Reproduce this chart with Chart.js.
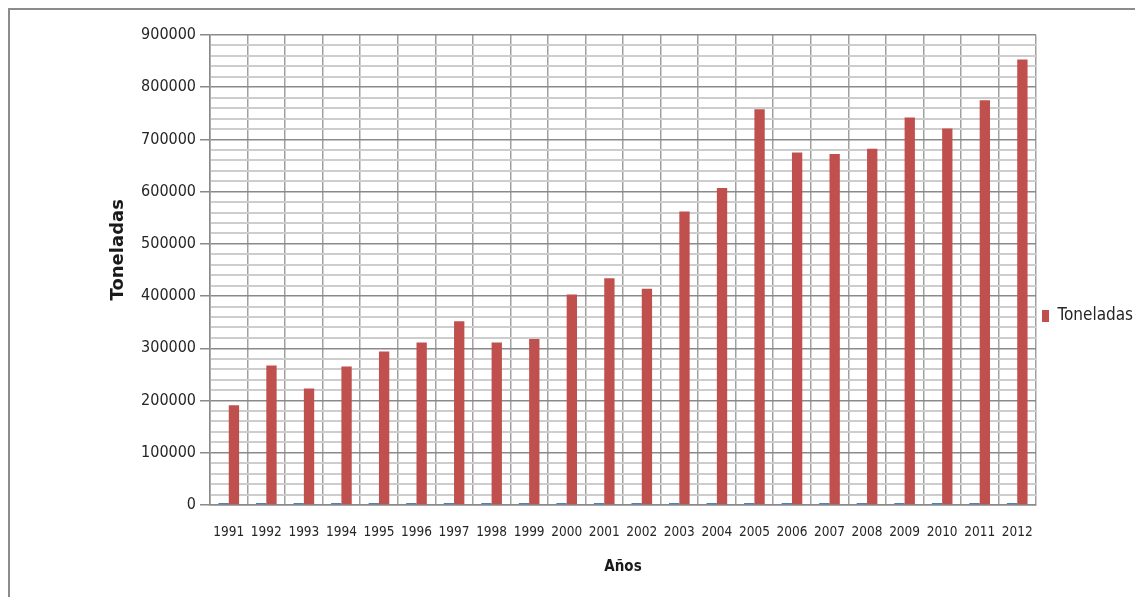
<!DOCTYPE html>
<html lang="es">
<head>
  <meta charset="UTF-8">
  <title>Toneladas por año, 1991-2012</title>
  <script src="https://cdn.jsdelivr.net/npm/chart.js"></script>
  <style>
    html, body {
      margin: 0;
      padding: 0;
      background: #fff;
      overflow: hidden;
    }
    .frame {
      position: absolute;
      left: 8px;
      top: 8px;
      width: 1200px;
      height: 700px;
      border-left: 2px solid #8c8c8c;
      border-top: 2px solid #8c8c8c;
    }
    .chart-container {
      position: absolute;
      left: 0;
      top: 0;
      width: 1135px;
      height: 597px;
    }
  </style>
</head>
<body>
  <div class="frame"></div>
  <div class="chart-container">
    <canvas id="toneladasChart"></canvas>
  </div>

  <script>
    // values
    const years = ['1991', '1992', '1993', '1994', '1995', '1996', '1997', '1998', '1999', '2000', '2001',
                   '2002', '2003', '2004', '2005', '2006', '2007', '2008', '2009', '2010', '2011', '2012'];
    const toneladas = [191000, 267000, 223000, 265000, 294000, 311000, 352000, 311000, 318000, 403000, 434000,
                       414000, 562000, 607000, 758000, 675000, 672000, 682000, 742000, 721000, 775000, 853000];
    // empty first series (shows as a thin blue line at zero)
    const serieVacia = [0, 0, 0, 0, 0, 0, 0, 0, 0, 0, 0,
                        0, 0, 0, 0, 0, 0, 0, 0, 0, 0, 0];

    const yMax = 900000;
    const yMinorStep = 20000;
    const yMajorStep = 100000;

    const fontNarrow = "'Liberation Sans Narrow', 'DejaVu Sans Condensed', sans-serif";
    const isMajor = v => v % yMajorStep === 0;

    // y title drawn by hand so it can sit a bit above the middle, like the original
    const yTitlePlugin = {
      id: 'yTitle',
      afterDraw(chart) {
        const { ctx, chartArea } = chart;
        ctx.save();
        ctx.translate(118, chartArea.top + chartArea.height * 0.457);
        ctx.rotate(-Math.PI / 2);
        ctx.font = "bold 18px 'DejaVu Sans', sans-serif";
        ctx.fillStyle = '#1a1a1a';
        ctx.textAlign = 'center';
        ctx.textBaseline = 'middle';
        ctx.fillText('Toneladas', 0, 0);
        ctx.restore();
      }
    };

    const config = {
      type: 'bar',
      data: {
        labels: years,
        datasets: [
          {
            label: 'Serie 1',
            data: serieVacia,
            backgroundColor: '#4f81bd',
            minBarLength: 2,
            categoryPercentage: 0.55,
            barPercentage: 1.0
          },
          {
            label: 'Toneladas',
            data: toneladas,
            backgroundColor: '#c0504d',
            categoryPercentage: 0.55,
            barPercentage: 1.0
          }
        ]
      },
      options: {
        responsive: true,
        maintainAspectRatio: false,
        animation: false,
        layout: {
          padding: { left: 98, top: 35, right: 0, bottom: 0 }
        },
        plugins: {
          tooltip: { enabled: false },
          legend: {
            position: 'right',
            maxWidth: 99,
            labels: {
              filter: item => item.text === 'Toneladas',
              boxWidth: 7,
              boxHeight: 12,
              padding: 6,
              color: '#262626',
              font: { family: fontNarrow, size: 17 }
            }
          }
        },
        scales: {
          x: {
            grid: {
              offset: true,
              drawTicks: false,
              color: '#a0a0a0',
              lineWidth: 1.5
            },
            border: { color: '#8a8a8a', width: 1.5 },
            ticks: {
              padding: 19,
              color: '#262626',
              maxRotation: 0,
              autoSkip: false,
              font: { family: fontNarrow, size: 13.5 }
            },
            title: {
              display: true,
              text: 'Años',
              color: '#1a1a1a',
              padding: { top: 0, bottom: 21 },
              font: { family: fontNarrow, size: 15, weight: 'bold' }
            },
            afterFit: scale => { scale.height = 92; }
          },
          y: {
            min: 0,
            max: yMax,
            grid: {
              color: ctx => isMajor(ctx.tick.value) ? '#8a8a8a' : '#cdcdcd',
              lineWidth: ctx => isMajor(ctx.tick.value) ? 1.5 : 2,
              tickColor: ctx => isMajor(ctx.tick.value) ? '#8a8a8a' : 'rgba(0,0,0,0)',
              tickLength: 10
            },
            border: { color: '#8a8a8a', width: 1.5 },
            ticks: {
              stepSize: yMinorStep,
              padding: 4,
              autoSkip: false,
              color: '#262626',
              font: { family: fontNarrow, size: 16 },
              callback: v => isMajor(v) ? String(v) : ''
            },
            afterFit: scale => { scale.width = 112; }
          }
        }
      },
      plugins: [yTitlePlugin]
    };

    const toneladasChart = new Chart(
      document.getElementById('toneladasChart'),
      config
    );
  </script>
</body>
</html>
